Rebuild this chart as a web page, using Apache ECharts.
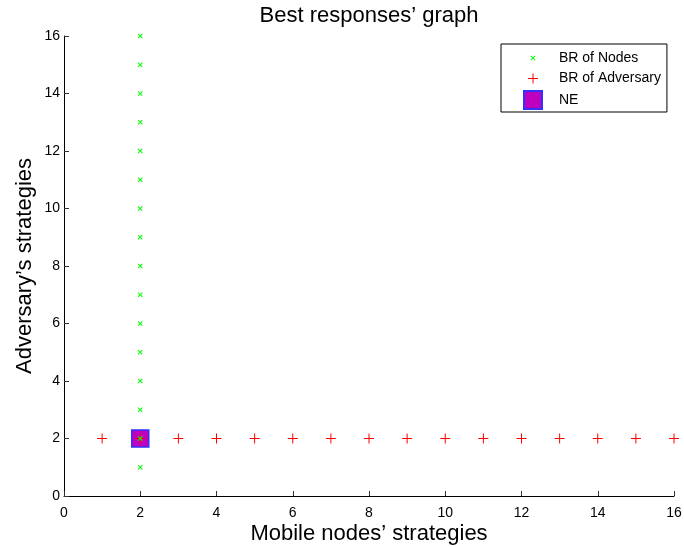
<!DOCTYPE html>
<html>
<head>
<meta charset="utf-8">
<script src="https://cdn.jsdelivr.net/npm/echarts@6/dist/echarts.min.js"></script>
<style>
  html, body { margin: 0; padding: 0; background: #fff; }
  #chart { width: 684px; height: 547px; }
</style>
</head>
<body>
<div id="chart"></div>
<script>
// Best responses of the mobile nodes: node strategy 2 against every adversary strategy
const nodesBRx = [2, 2, 2, 2, 2, 2, 2, 2, 2, 2, 2, 2, 2, 2, 2, 2];
const nodesBRy = [1, 2, 3, 4, 5, 6, 7, 8, 9, 10, 11, 12, 13, 14, 15, 16];
// Best responses of the adversary: strategy 2 against every node strategy
const advBRx = [1, 2, 3, 4, 5, 6, 7, 8, 9, 10, 11, 12, 13, 14, 15, 16];
const advBRy = [2, 2, 2, 2, 2, 2, 2, 2, 2, 2, 2, 2, 2, 2, 2, 2];
// Nash equilibrium
const neX = [2];
const neY = [2];
const tickValues = [0, 2, 4, 6, 8, 10, 12, 14, 16];

// Marker shapes drawn inside a common 18x18 box (the leading moves fix the box),
// so the scatter marks and the legend icons share one size.
const crossPath = 'path://M0,0M18,18' +
  'M7.2,6.5L11.5,10.8L10.8,11.5L6.5,7.2Z' +
  'M6.5,10.8L10.8,6.5L11.5,7.2L7.2,11.5Z';
const plusPath = 'path://M0,0M18,18M4,8.5h10v1h-10zM8.5,4h1v10h-1z';
const font = 'Liberation Sans, Arial, Helvetica, sans-serif';

const chart = echarts.init(document.getElementById('chart'));
const pair = (xs, ys) => xs.map((x, i) => [x, ys[i]]);

const axisCommon = {
  type: 'value',
  min: tickValues[0],
  max: tickValues[tickValues.length - 1],
  interval: 2,
  splitLine: { show: false },
  axisLine: { show: true, lineStyle: { color: '#000', width: 1 } },
  axisTick: { show: true, inside: true, length: 5, lineStyle: { color: '#333' } },
  axisLabel: { color: '#000', fontSize: 14, fontFamily: font },
  nameLocation: 'middle',
  nameMoveOverlap: false,
  nameTextStyle: { color: '#000', fontSize: 22, fontFamily: font }
};

chart.setOption({
  animation: false,
  backgroundColor: '#fff',
  title: {
    text: 'Best responses’ graph',
    left: 369, top: 5, textAlign: 'center', padding: 0,
    textStyle: { fontSize: 22, fontWeight: 'normal', color: '#000', fontFamily: font }
  },
  grid: {
    left: 64, right: 10, top: 36, bottom: 51,
    containLabel: false, outerBoundsMode: 'none'
  },
  xAxis: Object.assign({}, axisCommon, {
    name: 'Mobile nodes’ strategies', nameGap: 27,
    axisLabel: Object.assign({}, axisCommon.axisLabel, { margin: 10 })
  }),
  yAxis: Object.assign({}, axisCommon, {
    name: 'Adversary’s strategies', nameGap: 28,
    axisLabel: Object.assign({}, axisCommon.axisLabel, { margin: 4 })
  }),
  legend: {
    orient: 'vertical',
    left: 501, top: 44,
    padding: [5, 6, 2, 22],
    itemGap: 2.5,
    itemWidth: 18, itemHeight: 18,
    borderColor: '#000', borderWidth: 1, borderRadius: 0,
    backgroundColor: '#fff',
    textStyle: { fontSize: 14, color: '#000', fontFamily: font, padding: [0, 0, 0, 12] },
    data: ['BR of Nodes', 'BR of Adversary', 'NE']
  },
  series: [
    {
      name: 'NE', type: 'scatter', z: 1,
      data: pair(neX, neY),
      symbol: 'rect', symbolSize: 17,
      itemStyle: { color: '#bf00bf', borderColor: '#3030ff', borderWidth: 1.5, opacity: 1 }
    },
    {
      name: 'BR of Nodes', type: 'scatter', z: 3,
      data: pair(nodesBRx, nodesBRy),
      symbol: crossPath, symbolSize: 18,
      itemStyle: { color: '#00ff00', opacity: 1 }
    },
    {
      name: 'BR of Adversary', type: 'scatter', z: 2,
      data: pair(advBRx, advBRy),
      symbol: plusPath, symbolSize: 18,
      itemStyle: { color: '#ff0000', opacity: 1 }
    }
  ]
});
</script>
</body>
</html>
